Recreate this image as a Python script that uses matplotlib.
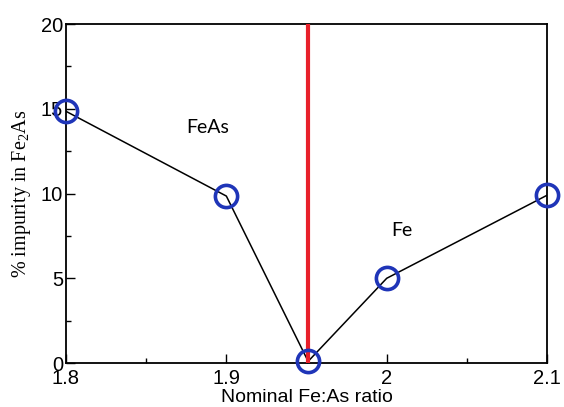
import matplotlib
matplotlib.use('Agg')
import matplotlib.pyplot as plt
from matplotlib.ticker import MultipleLocator

plt.rcParams['mathtext.fontset'] = 'custom'
plt.rcParams['mathtext.rm'] = 'Liberation Serif'
plt.rcParams['mathtext.it'] = 'Liberation Serif:italic'

ratio = [1.8, 1.9, 1.951, 2.0, 2.1]
impurity = [14.85, 9.85, 0.1, 5.0, 9.9]
boundary = 1.951

fig = plt.figure(figsize=(5.64, 4.07), dpi=100)
ax = fig.add_axes([0.117, 0.108, 0.853, 0.833])

ax.plot(ratio, impurity, color='black', lw=1.1, zorder=2)
ax.plot([boundary, boundary], [0, 20], color='#e8202a', lw=3.0, zorder=3)
ax.plot(ratio, impurity, 'o', ms=16, mfc='none', mec='#1f35b8', mew=2.6, zorder=4,
        clip_on=False)

ax.text(1.875, 13.9, 'FeAs', fontsize=14, family='Lato', ha='left', va='center')
ax.text(2.003, 7.8, 'Fe', fontsize=14, family='Lato', ha='left', va='center')

ax.set_xlim(1.8, 2.1)
ax.set_ylim(0, 20)
ax.xaxis.set_major_locator(MultipleLocator(0.1))
ax.xaxis.set_minor_locator(MultipleLocator(0.05))
ax.yaxis.set_major_locator(MultipleLocator(5))
ax.yaxis.set_minor_locator(MultipleLocator(2.5))
ax.set_xticks([1.8, 1.9, 2.0, 2.1], ['1.8', '1.9', '2', '2.1'])
ax.tick_params(which='both', direction='in', top=False, right=False,
               labelsize=14.5, width=1.0)
ax.tick_params(which='major', length=6.5)
ax.tick_params(axis='x', which='major', pad=4)
ax.tick_params(axis='y', which='major', pad=2)
ax.tick_params(which='minor', length=3.6)
for lab in ax.get_xticklabels() + ax.get_yticklabels():
    lab.set_family('Liberation Sans')
for sp in ax.spines.values():
    sp.set_linewidth(1.3)

ax.set_xlabel('Nominal Fe:As ratio', fontsize=14, family='Liberation Sans', labelpad=1)
ax.set_ylabel(r'% impurity in Fe$_2$As', fontsize=14.5, family='Liberation Serif', labelpad=6)

fig.savefig('out.png', dpi=100)
